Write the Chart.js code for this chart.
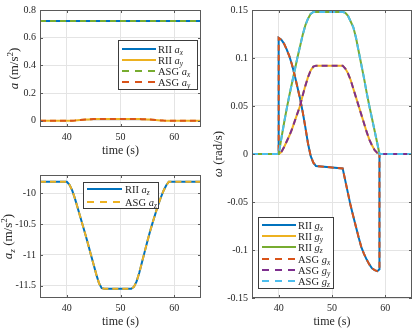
<!DOCTYPE html>
<html><head><meta charset="utf-8">
<script src="https://cdn.jsdelivr.net/npm/chart.js@4.4.0/dist/chart.umd.min.js"></script>
<style>
html,body{margin:0;padding:0;background:#fff;}
body{width:415px;height:328px;position:relative;overflow:hidden;}
canvas{position:absolute;}
</style></head><body>
<canvas id="c1" width="207" height="160" style="left:0;top:0;width:207px;height:160px"></canvas>
<canvas id="c2" width="207" height="168" style="left:0;top:160px;width:207px;height:168px"></canvas>
<canvas id="c3" width="205" height="328" style="left:210px;top:0;width:205px;height:328px"></canvas>
<script>
// ---------- data ----------
const xTicks = [40, 50, 60];
const accYTicks = [0, 0.2, 0.4, 0.6, 0.8];
const azYTicks = [-11.5, -11, -10.5, -10];
const gyroYTicks = [-0.15, -0.1, -0.05, 0, 0.05, 0.1, 0.15];

const tAx = [35, 65];
const riiAx = [0.72, 0.72];
const asgAx = [0.72, 0.72];

const tAcc = [35, 40, 40.5, 41, 41.5, 42, 42.5, 43, 43.5, 44, 44.5, 45, 45.5, 46, 46.5, 47,
              52, 52.5, 53, 53.5, 54, 54.5, 55, 55.5, 56, 56.5, 57, 57.5, 58, 58.5, 59, 65];
const riiAy = [0, 0, 0.0005, 0.001, 0.002, 0.004, 0.0055, 0.007, 0.0085, 0.010, 0.011, 0.012, 0.0125, 0.013, 0.013, 0.013,
               0.013, 0.013, 0.0125, 0.012, 0.0115, 0.011, 0.010, 0.0085, 0.007, 0.0055, 0.004, 0.0025, 0.0012, 0.0004, 0, 0];
const asgAy = [0, 0, 0.0005, 0.001, 0.002, 0.004, 0.0055, 0.007, 0.0085, 0.010, 0.011, 0.012, 0.0125, 0.013, 0.013, 0.013,
               0.013, 0.013, 0.0125, 0.012, 0.0115, 0.011, 0.010, 0.0085, 0.007, 0.0055, 0.004, 0.0025, 0.0012, 0.0004, 0, 0];
const riiAz = [-9.81, -9.81, -9.86, -9.95, -10.08, -10.23, -10.38, -10.53, -10.68, -10.84, -11.0, -11.16, -11.32, -11.46, -11.54, -11.55,
               -11.55, -11.52, -11.43, -11.29, -11.12, -10.95, -10.78, -10.62, -10.47, -10.33, -10.19, -10.07, -9.96, -9.87, -9.81, -9.81];
const asgAz = [-9.81, -9.81, -9.86, -9.95, -10.08, -10.23, -10.38, -10.53, -10.68, -10.84, -11.0, -11.16, -11.32, -11.46, -11.54, -11.55,
               -11.55, -11.52, -11.43, -11.29, -11.12, -10.95, -10.78, -10.62, -10.47, -10.33, -10.19, -10.07, -9.96, -9.87, -9.81, -9.81];

const tGyro = [35, 40, 40, 40.5, 41, 41.5, 42, 42.5, 43, 43.5, 44, 44.5, 45, 45.5, 46, 46.5, 47,
               52, 52.5, 53, 53.5, 54, 54.5, 55, 55.5, 56, 56.5, 57, 57.5, 58, 58.5, 58.9, 58.9, 65];
const riiGx = [0, 0, 0.121, 0.119, 0.115, 0.109, 0.102, 0.093, 0.082, 0.070, 0.058, 0.044, 0.028, 0.011, -0.002, -0.009, -0.0126,
               -0.015, -0.028, -0.041, -0.054, -0.065, -0.076, -0.087, -0.097, -0.104, -0.110, -0.115, -0.119, -0.121, -0.122, -0.120, 0, 0];
const riiGy = [0, 0, 0, 0.002, 0.007, 0.013, 0.019, 0.026, 0.034, 0.042, 0.050, 0.061, 0.071, 0.080, 0.087, 0.091, 0.092,
               0.092, 0.089, 0.084, 0.077, 0.068, 0.059, 0.050, 0.041, 0.032, 0.023, 0.015, 0.009, 0.004, 0.001, 0, 0, 0];
const riiGz = [0, 0, 0, 0.016, 0.032, 0.047, 0.061, 0.074, 0.087, 0.100, 0.112, 0.124, 0.134, 0.141, 0.146, 0.148, 0.148,
               0.148, 0.147, 0.144, 0.138, 0.132, 0.121, 0.107, 0.093, 0.079, 0.064, 0.050, 0.037, 0.024, 0.011, 0, 0, 0];
const asgGx = riiGx.slice();
const asgGy = riiGy.slice();
const asgGz = riiGz.slice();

// ---------- style ----------
const FONT = '"Liberation Serif", "Times New Roman", serif';
const TXT = '#262626';
const GRID = '#e4e4e4';
const BOX = '#5a5a5a';
const C = {blue:'#0072BD', orange:'#D95319', yellow:'#EDB120', purple:'#7E2F8E', green:'#77AC30', cyan:'#4DBEEE'};
const DASH = [6, 4];
const LDASH = [7, 6];

const pts = (xs, ys) => xs.map((x, i) => ({x, y: ys[i]}));
const fmt = v => String(Math.round(v * 10000) / 10000);

function segFont(s, size) {
  const sz = (s.sub || s.sup) ? size * 0.7 : size;
  return (s.i ? 'italic ' : '') + sz + 'px ' + FONT;
}
function segsWidth(ctx, segs, size) {
  let w = 0;
  for (const s of segs) { ctx.font = segFont(s, size); w += ctx.measureText(s.t).width; }
  return w;
}
function drawSegs(ctx, segs, x, y, size) {
  for (const s of segs) {
    ctx.font = segFont(s, size);
    const dy = s.sub ? size * 0.22 : (s.sup ? -size * 0.38 : 0);
    ctx.fillText(s.t, x, y + dy);
    x += ctx.measureText(s.t).width;
  }
}

const framePlugin = {
  id: 'frame',
  afterDraw(chart) {
    const o = chart.options.plugins.frame;
    const ctx = chart.ctx, a = chart.chartArea;
    const xs = chart.scales.x, ys = chart.scales.y;
    ctx.save();
    // box
    ctx.strokeStyle = BOX; ctx.lineWidth = 1;
    ctx.strokeRect(Math.round(a.left) + 0.5, Math.round(a.top) + 0.5,
                   Math.round(a.right - a.left) - 1, Math.round(a.bottom - a.top) - 1);
    // inward ticks
    ctx.beginPath();
    for (const v of o.xTicks) {
      const px = Math.round(xs.getPixelForValue(v)) + 0.5;
      ctx.moveTo(px, a.bottom); ctx.lineTo(px, a.bottom - 3);
      ctx.moveTo(px, a.top); ctx.lineTo(px, a.top + 3);
    }
    for (const v of o.yTicks) {
      const py = Math.round(ys.getPixelForValue(v)) + 0.5;
      ctx.moveTo(a.left, py); ctx.lineTo(a.left + 3, py);
      ctx.moveTo(a.right, py); ctx.lineTo(a.right - 3, py);
    }
    ctx.stroke();
    // titles
    ctx.fillStyle = TXT; ctx.textBaseline = 'alphabetic'; ctx.textAlign = 'left';
    const xts = 12, yts = 13;
    const xw = segsWidth(ctx, o.xTitle, xts);
    drawSegs(ctx, o.xTitle, (a.left + a.right) / 2 - xw / 2, o.xTitleY + xts * 0.3, xts);
    ctx.save();
    ctx.translate(o.yTitleX, (a.top + a.bottom) / 2);
    ctx.rotate(-Math.PI / 2);
    const yw = segsWidth(ctx, o.yTitle, yts);
    drawSegs(ctx, o.yTitle, -yw / 2, yts * 0.3, yts);
    ctx.restore();
    // legend
    const L = o.legend;
    ctx.fillStyle = '#fff';
    ctx.fillRect(L.x, L.y, L.w, L.h);
    ctx.strokeStyle = '#3c3c3c'; ctx.lineWidth = 1;
    ctx.strokeRect(L.x + 0.5, L.y + 0.5, L.w - 1, L.h - 1);
    L.items.forEach((it, k) => {
      const ry = Math.round(L.row0 + k * L.dy);
      ctx.strokeStyle = it.color; ctx.lineWidth = 2; ctx.lineCap = 'butt';
      ctx.setLineDash(it.dash ? LDASH : []);
      ctx.beginPath(); ctx.moveTo(L.lx0, ry); ctx.lineTo(L.lx1, ry); ctx.stroke();
      ctx.setLineDash([]);
      ctx.fillStyle = TXT;
      drawSegs(ctx, it.label, L.tx, ry + 3.6, 10.5);
    });
    ctx.restore();
  }
};

function ds(data, color, dashed, order) {
  return {data, borderColor: color, borderDash: dashed ? DASH : [], borderWidth: 2,
          pointRadius: 0, tension: 0, fill: false, order, borderCapStyle: 'butt'};
}

function build(id, cfg) {
  return new Chart(document.getElementById(id), {
    type: 'line',
    data: {datasets: cfg.datasets},
    options: {
      responsive: false, animation: false, events: [],
      layout: {padding: cfg.padding},
      plugins: {legend: {display: false}, tooltip: {enabled: false},
        frame: {xTicks, yTicks: cfg.yTicks, xTitle: cfg.xTitle, yTitle: cfg.yTitle,
                xTitleY: cfg.xTitleY, yTitleX: cfg.yTitleX, legend: cfg.legend}},
      scales: {
        x: {type: 'linear', min: 35, max: 65,
            afterBuildTicks: s => { s.ticks = xTicks.map(v => ({value: v})); },
            afterFit: s => { s.height = cfg.xh; },
            grid: {color: GRID, drawTicks: false}, border: {display: false},
            ticks: {padding: 4, color: TXT, font: {family: FONT, size: 10}, maxRotation: 0, autoSkip: false, callback: fmt}},
        y: {type: 'linear', min: cfg.ymin, max: cfg.ymax,
            afterBuildTicks: s => { s.ticks = cfg.yTicks.map(v => ({value: v})); },
            afterFit: s => { s.width = cfg.yw; },
            grid: {color: GRID, drawTicks: false}, border: {display: false},
            ticks: {padding: 4, color: TXT, font: {family: FONT, size: 10}, autoSkip: false, callback: fmt}}
      }
    },
    plugins: [framePlugin]
  });
}

const sub = (name, v, s) => [{t: name + ' '}, {t: v, i: 1}, {t: s, i: 1, sub: 1}];

// top-left: a_x, a_y
build('c1', {
  padding: {left: 0, top: 5, right: 6, bottom: 0}, yw: 40, xh: 33,
  ymin: -0.045, ymax: 0.8, yTicks: accYTicks,
  xTitle: [{t: 'time (s)'}], xTitleY: 150,
  yTitle: [{t: 'a', i: 1}, {t: ' (m/s'}, {t: '2', sup: 1}, {t: ')'}], yTitleX: 14,
  datasets: [
    ds(pts(tAx, riiAx), C.blue, false, 4),
    ds(pts(tAcc, riiAy), C.yellow, false, 3),
    ds(pts(tAx, asgAx), C.green, true, 2),
    ds(pts(tAcc, asgAy), C.orange, true, 1)
  ],
  legend: {x: 118, y: 40, w: 80, h: 50, row0: 48.5, dy: 11.1, lx0: 122, lx1: 156, tx: 158,
    items: [
      {color: C.blue, dash: false, label: sub('RII', 'a', 'x')},
      {color: C.yellow, dash: false, label: sub('RII', 'a', 'y')},
      {color: C.green, dash: true, label: sub('ASG', 'a', 'x')},
      {color: C.orange, dash: true, label: sub('ASG', 'a', 'y')}
    ]}
});

// bottom-left: a_z
build('c2', {
  padding: {left: 0, top: 15, right: 6, bottom: 0}, yw: 40, xh: 30,
  ymin: -11.7, ymax: -9.7, yTicks: azYTicks,
  xTitle: [{t: 'time (s)'}], xTitleY: 161,
  yTitle: [{t: 'a', i: 1}, {t: 'z', i: 1, sub: 1}, {t: ' (m/s'}, {t: '2', sup: 1}, {t: ')'}], yTitleX: 8,
  datasets: [
    ds(pts(tAcc, riiAz), C.blue, false, 2),
    ds(pts(tAcc, asgAz), C.yellow, true, 1)
  ],
  legend: {x: 83, y: 22, w: 76, h: 27, row0: 29.3, dy: 12.4, lx0: 87, lx1: 122, tx: 125,
    items: [
      {color: C.blue, dash: false, label: sub('RII', 'a', 'z')},
      {color: C.yellow, dash: true, label: sub('ASG', 'a', 'z')}
    ]}
});

// right: gyro
build('c3', {
  padding: {left: 0, top: 5, right: 3, bottom: 0}, yw: 42, xh: 30,
  ymin: -0.15, ymax: 0.15, yTicks: gyroYTicks,
  xTitle: [{t: 'time (s)'}], xTitleY: 321,
  yTitle: [{t: 'ω', i: 1}, {t: ' (rad/s)'}], yTitleX: 8.5,
  datasets: [
    ds(pts(tGyro, riiGx), C.blue, false, 6),
    ds(pts(tGyro, riiGy), C.yellow, false, 5),
    ds(pts(tGyro, riiGz), C.green, false, 4),
    ds(pts(tGyro, asgGx), C.orange, true, 3),
    ds(pts(tGyro, asgGy), C.purple, true, 2),
    ds(pts(tGyro, asgGz), C.cyan, true, 1)
  ],
  legend: {x: 48, y: 217, w: 76, h: 72, row0: 224.7, dy: 11.3, lx0: 52, lx1: 86, tx: 88,
    items: [
      {color: C.blue, dash: false, label: sub('RII', 'g', 'x')},
      {color: C.yellow, dash: false, label: sub('RII', 'g', 'y')},
      {color: C.green, dash: false, label: sub('RII', 'g', 'z')},
      {color: C.orange, dash: true, label: sub('ASG', 'g', 'x')},
      {color: C.purple, dash: true, label: sub('ASG', 'g', 'y')},
      {color: C.cyan, dash: true, label: sub('ASG', 'g', 'z')}
    ]}
});
</script>
</body></html>
